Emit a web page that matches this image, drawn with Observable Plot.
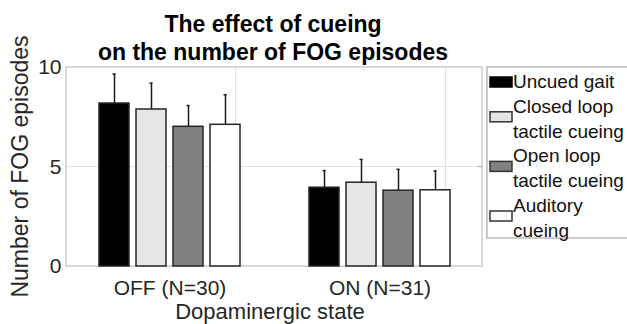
<!DOCTYPE html>
<html><head><meta charset="utf-8">
<script src="https://cdn.jsdelivr.net/npm/d3@7"></script>
<script src="https://cdn.jsdelivr.net/npm/@observablehq/plot@0.6"></script>
<style>
body{margin:0;background:#fff;}
#wrap{position:relative;width:627px;height:324px;overflow:hidden;font-family:"Liberation Sans",Arial,Helvetica,sans-serif;}
#wrap svg{position:absolute;left:0;top:0;}
</style></head><body><div id="wrap"></div>
<script>
// ---- data ----
const states = ["OFF (N=30)", "ON (N=31)"];
const conditions = ["Uncued gait", "Closed loop tactile cueing", "Open loop tactile cueing", "Auditory cueing"];
const legendLines = [["Uncued gait"], ["Closed loop", "tactile cueing"], ["Open loop", "tactile cueing"], ["Auditory", "cueing"]];
const fills = ["#000000", "#e6e6e6", "#808080", "#ffffff"];
const offMeans = [8.19, 7.89, 7.02, 7.12];
const offErrors = [1.48, 1.32, 1.07, 1.51];
const onMeans = [3.96, 4.21, 3.81, 3.83];
const onErrors = [0.86, 1.17, 1.07, 0.97];
const yTicks = [0, 5, 10];
const titleLines = ["The effect of cueing", "on the number of FOG episodes"];
const xLabel = "Dopaminergic state";
const yLabel = "Number of FOG episodes";

const rows = [];
conditions.forEach((c, i) => rows.push({state: states[0], cond: c, mean: offMeans[i], err: offErrors[i]}));
conditions.forEach((c, i) => rows.push({state: states[1], cond: c, mean: onMeans[i], err: onErrors[i]}));

const W = 627, H = 324;
const M = {left: 66, right: 145, top: 67, bottom: 58};
const font = '"Liberation Sans",Arial,Helvetica,sans-serif';

const chart = Plot.plot({
  width: W, height: H,
  marginLeft: M.left, marginRight: M.right, marginTop: M.top, marginBottom: M.bottom,
  style: {fontFamily: font, fontSize: "21px", color: "#262626", background: "transparent", overflow: "visible"},
  fx: {domain: states, paddingInner: 0.024, paddingOuter: 0, label: null, axis: "bottom", tickSize: 0, tickPadding: 14},
  x: {domain: conditions, paddingInner: 0.176, paddingOuter: 0.79, axis: null},
  y: {domain: [0, 10], ticks: yTicks, label: null, tickSize: 0, tickPadding: 6},
  color: {domain: conditions, range: fills},
  marks: [
    Plot.barY(rows, {fx: "state", x: "cond", y: "mean", fill: "cond", stroke: "#262626", strokeWidth: 1.5}),
    Plot.ruleX(rows, {fx: "state", x: "cond", y1: "mean", y2: d => d.mean + d.err, stroke: "#1a1a1a", strokeWidth: 1.5}),
    Plot.tickY(rows, {fx: "state", x: "cond", y: d => d.mean + d.err, stroke: "#1a1a1a", strokeWidth: 1.5, insetLeft: 13.5, insetRight: 13.5})
  ]
});

const wrap = d3.select("#wrap");
// background layer: frame, grid, titles, legend
const bg = wrap.append("svg").attr("width", W).attr("height", H)
  .style("font-family", font);
wrap.node().appendChild(chart);

const y = chart.scale("y");
const fx = chart.scale("fx");
const x0 = M.left, x1 = W - M.right;
const yTop = y.apply(10), yBot = y.apply(0);

// grid
yTicks.filter(t => t > 0 && t < 10).forEach(t => {
  bg.append("line").attr("x1", x0).attr("x2", x1).attr("y1", y.apply(t)).attr("y2", y.apply(t))
    .attr("stroke", "#e2e2e2").attr("stroke-width", 1);
  bg.append("line").attr("x1", x1 - 4).attr("x2", x1).attr("y1", y.apply(t)).attr("y2", y.apply(t))
    .attr("stroke", "#a0a0a0").attr("stroke-width", 1);
});
states.forEach(s => {
  const cx = M.left + fx.apply(s) + fx.bandwidth / 2;
  bg.append("line").attr("x1", cx).attr("x2", cx).attr("y1", yTop).attr("y2", yBot)
    .attr("stroke", "#e2e2e2").attr("stroke-width", 1);
});
// frame
bg.append("rect").attr("x", x0).attr("y", yTop).attr("width", x1 - x0).attr("height", yBot - yTop)
  .attr("fill", "none").attr("stroke", "#c0c0c0").attr("stroke-width", 1.2);

// title
titleLines.forEach((t, i) => {
  bg.append("text").attr("x", 273).attr("y", 31.7 + i * 28.3).attr("text-anchor", "middle")
    .attr("font-size", 23).attr("font-weight", "bold").attr("fill", "#000").text(t);
});
// axis labels
bg.append("text").attr("x", 270).attr("y", 318.5).attr("text-anchor", "middle")
  .attr("font-size", 22).attr("fill", "#262626").text(xLabel);
bg.append("text").attr("transform", `translate(27.5,${(yTop + yBot) / 2}) rotate(-90)`)
  .attr("text-anchor", "middle").attr("font-size", 23).attr("fill", "#262626").text(yLabel);

// legend
const lg = {x: 487, y: 67, h: 171, line: 24.8, base: 88};
bg.append("rect").attr("x", lg.x).attr("y", lg.y).attr("width", 200).attr("height", lg.h)
  .attr("fill", "#fff").attr("stroke", "#a8a8a8").attr("stroke-width", 1.2);
let li = 0;
legendLines.forEach((lines, i) => {
  const b = lg.base + li * lg.line;
  const cy = lines.length === 1 ? b - 6 : b + 4;
  bg.append("rect").attr("x", 490).attr("y", cy - 5).attr("width", 22).attr("height", 10)
    .attr("fill", fills[i]).attr("stroke", i === 0 ? "#000" : "#333").attr("stroke-width", 1.5);
  lines.forEach((t, k) => {
    bg.append("text").attr("x", 513).attr("y", lg.base + (li + k) * lg.line)
      .attr("font-size", 19).attr("fill", "#111").text(t);
  });
  li += lines.length;
});
</script></body></html>
